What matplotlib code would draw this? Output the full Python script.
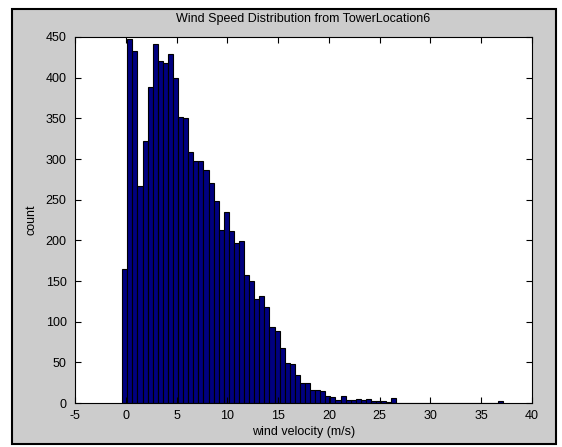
import numpy as np
import matplotlib
matplotlib.use("Agg")
import matplotlib.pyplot as plt
from matplotlib.patches import Rectangle

# histogram counts (one per bin, bin width ~0.5 m/s)
counts = [165, 447, 433, 267, 322, 389, 442, 421, 418, 429,
          400, 352, 351, 309, 297, 298, 286, 270, 248, 213,
          235, 211, 197, 199, 157, 150, 128, 132, 118, 94,
          88, 68, 49, 48, 34, 25, 24, 16, 16, 15,
          9, 7, 4, 9, 4, 4, 5, 4, 5, 2,
          3, 2, 1, 6, 0, 0, 0, 0, 0, 0,
          0, 0, 0, 0, 0, 0, 0, 0, 0, 0,
          0, 0, 0, 0, 2]
bin_start = -0.35
bin_width = 0.5
x_ticks = [-5, 0, 5, 10, 15, 20, 25, 30, 35, 40]
y_ticks = [0, 50, 100, 150, 200, 250, 300, 350, 400, 450]

plt.rcParams['font.family'] = ['Liberation Sans', 'DejaVu Sans']
plt.rcParams['axes.unicode_minus'] = False

fig = plt.figure(figsize=(5.62, 4.47), dpi=100, facecolor='white')
# grey window area with black frame
fig.patches.append(Rectangle((12 / 562, 3 / 447), 544 / 562, 435 / 447,
                             transform=fig.transFigure, facecolor='#cccccc',
                             edgecolor='black', linewidth=1.5, zorder=-1))

ax = fig.add_axes([75 / 562, 44 / 447, 457 / 562, 366 / 447])
edges = bin_start + bin_width * np.arange(len(counts) + 1)
ax.bar(edges[:-1], counts, width=bin_width, align='edge',
       color='#000080', edgecolor='black', linewidth=0.8)

ax.set_xlim(-5, 40)
ax.set_ylim(0, 450)
ax.set_xticks(x_ticks)
ax.set_yticks(y_ticks)
ax.tick_params(direction='in', length=4, width=0.8, top=True, right=True,
               labelsize=9)
ax.tick_params(axis='x', pad=5)
ax.tick_params(axis='y', pad=6)
for s in ax.spines.values():
    s.set_linewidth(0.8)

ax.set_title("Wind Speed Distribution from TowerLocation6", fontsize=9, pad=11)
ax.set_xlabel("wind velocity (m/s)", fontsize=9, labelpad=3)
ax.set_ylabel("count", fontsize=9, labelpad=6)

fig.savefig("out.png", dpi=100, facecolor=fig.get_facecolor())
